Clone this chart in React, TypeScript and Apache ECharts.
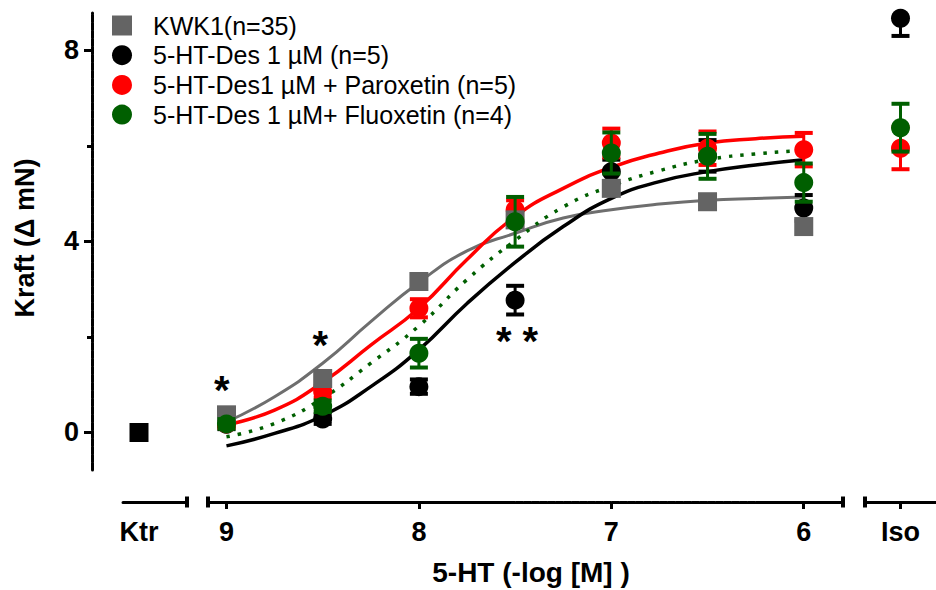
import React, { useEffect, useRef } from "react";
import * as echarts from "echarts";

// 5-HT concentration steps (-log [M]) of the cumulative curve
const pLog = [9, 8.5, 8, 7.5, 7, 6.5, 6];

// Mean force (Δ mN) and SEM per group
const kwk1 = [0.37, 1.13, 3.16, 4.45, 5.11, 4.83, 4.31];
const des = [0.17, 0.28, 0.96, 2.77, 5.46, 5.79, 4.7];
const desErr = [0.1, 0.1, 0.15, 0.3, 0.25, 0.33, 0.27];
const parox = [0.18, 0.85, 2.6, 4.66, 6.06, 5.95, 5.92];
const paroxErr = [0.08, 0.12, 0.19, 0.2, 0.3, 0.35, 0.35];
const fluox = [0.18, 0.55, 1.66, 4.41, 5.85, 5.78, 5.23];
const fluoxErr = [0.1, 0.12, 0.3, 0.52, 0.43, 0.47, 0.4];

// Control (Ktr) and isoprenaline (Iso) responses
const ktrCats = ["Ktr", ""];
const ktrValue = 0;
const isoCats = ["Iso"];
const isoDes = 8.67;
const isoDesErr = 0.37;
const isoParox = 5.95;
const isoParoxErr = 0.44;
const isoFluox = 6.38;
const isoFluoxErr = 0.5;

// Fitted concentration-response curves, sampled every 0.25 log units
const curveX = [9, 8.75, 8.5, 8.25, 8, 7.75, 7.5, 7.25, 7, 6.75, 6.5, 6.25, 6];
const kwk1Fit = [0.22, 0.75, 1.45, 2.32, 3.14, 3.8, 4.17, 4.49, 4.66, 4.78, 4.86, 4.9, 4.93];
const desFit = [-0.28, -0.02, 0.35, 0.96, 1.73, 2.7, 3.56, 4.31, 4.9, 5.25, 5.46, 5.6, 5.71];
const paroxFit = [0.16, 0.47, 1.05, 1.83, 2.6, 3.62, 4.52, 5.11, 5.55, 5.85, 6.06, 6.15, 6.2];
const fluoxFit = [-0.09, 0.19, 0.72, 1.45, 2.23, 3.2, 4.02, 4.72, 5.16, 5.48, 5.71, 5.83, 5.9];

// Significance marks
const sigX = [9.024, 8.512, 7.49];
const sigY = [0.89, 1.84, 1.91];
const sigText = ["*", "*", "* *"];

const yTicks = [0, 4, 8];
const yMinorTicks = [2, 6];
const xTicks = [9, 8, 7, 6];
const xMinorTicks = [8.5, 7.5, 6.5];

const names = [
  "KWK1(n=35)",
  "5-HT-Des 1 µM (n=5)",
  "5-HT-Des1 µM + Paroxetin (n=5)",
  "5-HT-Des 1 µM+ Fluoxetin (n=4)",
];

const FONT = '"Liberation Sans", Arial, sans-serif';
const GRAY = "#646464";
const GRAY_LINE = "#6e6e6e";
const BLACK = "#000000";
const RED = "#ff0000";
const GREEN = "#005f00";

const Y_MIN = -0.785;
const Y_MAX = 8.78;

const axisLineStyle = { color: "#000", width: 3, type: [7, 1] as any };
const tickStyle = { color: "#000", width: 3 };
const labelStyle = {
  fontSize: 27,
  fontWeight: "bold" as const,
  color: "#000",
  fontFamily: FONT,
};

function pairs(xs: (number | string)[], ys: number[]) {
  return xs.map((x, i) => [x, ys[i]]);
}

function triples(xs: (number | string)[], ys: number[], es: number[]) {
  return xs.map((x, i) => [x, ys[i], es[i]]);
}

function errorBars(
  name: string,
  xAxisIndex: number,
  yAxisIndex: number,
  data: any[],
  color: string,
  z: number
) {
  return {
    type: "custom",
    name,
    xAxisIndex,
    yAxisIndex,
    z,
    clip: true,
    silent: true,
    encode: { x: 0, y: 1 },
    data,
    renderItem: (_params: any, api: any) => {
      const x = api.value(0);
      const y = api.value(1);
      const e = api.value(2);
      const top = api.coord([x, y + e]);
      const bot = api.coord([x, y - e]);
      const half = 9;
      return {
        type: "group",
        children: [
          {
            type: "line",
            shape: { x1: top[0], y1: top[1], x2: bot[0], y2: bot[1] },
            style: { stroke: color, lineWidth: 3 },
          },
          {
            type: "line",
            shape: { x1: top[0] - half, y1: top[1], x2: top[0] + half, y2: top[1] },
            style: { stroke: color, lineWidth: 4 },
          },
          {
            type: "line",
            shape: { x1: bot[0] - half, y1: bot[1], x2: bot[0] + half, y2: bot[1] },
            style: { stroke: color, lineWidth: 4 },
          },
        ],
      };
    },
  };
}

function scatter(
  name: string,
  xAxisIndex: number,
  yAxisIndex: number,
  data: any[],
  color: string,
  symbol: string,
  z: number
) {
  return {
    type: "scatter",
    name,
    xAxisIndex,
    yAxisIndex,
    z,
    symbol,
    symbolSize: 19,
    itemStyle: { color, opacity: 1 },
    data,
  };
}

function curve(name: string, ys: number[], color: string, width: number, dash?: number[]) {
  return {
    type: "line",
    name,
    xAxisIndex: 1,
    yAxisIndex: 2,
    z: 5,
    smooth: 0.5,
    showSymbol: false,
    symbol: "none",
    silent: true,
    lineStyle: { color, width, type: dash ? (dash as any) : "solid", cap: "butt" },
    data: pairs(curveX, ys),
  };
}

export default function App() {
  const ref = useRef<HTMLDivElement>(null);

  useEffect(() => {
    document.body.style.margin = "0";
    if (!ref.current) return;
    const chart = echarts.init(ref.current, undefined, { renderer: "svg" });

    const hiddenY = (gridIndex: number) => ({
      gridIndex,
      type: "value",
      min: Y_MIN,
      max: Y_MAX,
      show: false,
      splitLine: { show: false },
    });

    const xLine = (symbol: string[]) => ({
      show: true,
      onZero: false,
      lineStyle: axisLineStyle,
      symbol,
      symbolSize: [11, 4],
    });

    const option: any = {
      animation: false,
      backgroundColor: "#ffffff",
      textStyle: { fontFamily: FONT },
      grid: [
        { left: 123, right: 749, top: 13, bottom: 120 },
        { left: 208, right: 93, top: 13, bottom: 120 },
        { left: 865, right: -7, top: 13, bottom: 120 },
      ],
      legend: {
        data: names,
        orient: "vertical",
        left: 107,
        top: 8,
        itemWidth: 20,
        itemHeight: 20,
        itemGap: 4.7,
        selectedMode: false,
        textStyle: {
          fontSize: 25,
          color: "#000",
          fontFamily: FONT,
          padding: [0, 0, 0, 16],
        },
      },
      xAxis: [
        {
          gridIndex: 0,
          type: "category",
          data: ktrCats,
          boundaryGap: true,
          offset: 32,
          axisLine: xLine(["none", "rect"]),
          axisTick: { show: false },
          axisLabel: { ...labelStyle, margin: 16, interval: 0 },
          splitLine: { show: false },
        },
        {
          gridIndex: 1,
          type: "value",
          inverse: true,
          min: 5.796,
          max: 9.096,
          offset: 32,
          axisLine: xLine(["rect", "rect"]),
          axisTick: { show: true, customValues: xTicks, length: 7, lineStyle: tickStyle },
          axisLabel: { ...labelStyle, margin: 16, customValues: xTicks },
          splitLine: { show: false },
        },
        {
          gridIndex: 1,
          type: "value",
          inverse: true,
          min: 5.796,
          max: 9.096,
          offset: 32,
          axisLine: { show: false, onZero: false },
          axisTick: { show: true, customValues: xMinorTicks, length: 4, lineStyle: tickStyle },
          axisLabel: { show: false },
          splitLine: { show: false },
        },
        {
          gridIndex: 2,
          type: "category",
          data: isoCats,
          boundaryGap: true,
          offset: 32,
          axisLine: xLine(["rect", "none"]),
          axisTick: { show: true, alignWithLabel: true, length: 7, lineStyle: tickStyle },
          axisLabel: { ...labelStyle, margin: 16 },
          splitLine: { show: false },
        },
      ],
      yAxis: [
        {
          gridIndex: 0,
          type: "value",
          min: Y_MIN,
          max: Y_MAX,
          position: "left",
          offset: 31,
          axisLine: { show: true, onZero: false, lineStyle: axisLineStyle },
          axisTick: { show: true, customValues: yTicks, length: 8, lineStyle: tickStyle },
          axisLabel: { ...labelStyle, margin: 13, customValues: yTicks },
          splitLine: { show: false },
        },
        {
          gridIndex: 0,
          type: "value",
          min: Y_MIN,
          max: Y_MAX,
          position: "left",
          offset: 31,
          axisLine: { show: false, onZero: false },
          axisTick: { show: true, customValues: yMinorTicks, length: 5, lineStyle: tickStyle },
          axisLabel: { show: false },
          splitLine: { show: false },
        },
        hiddenY(1),
        hiddenY(2),
      ],
      graphic: [
        {
          type: "text",
          x: 531,
          y: 572,
          style: {
            text: "5-HT (-log [M] )",
            fontSize: 28,
            fontWeight: "bold",
            fontFamily: FONT,
            fill: "#000",
            align: "center",
            verticalAlign: "middle",
          },
        },
        {
          type: "text",
          x: 25,
          y: 238,
          rotation: Math.PI / 2,
          style: {
            text: "Kraft (Δ mN)",
            fontSize: 27,
            fontWeight: "bold",
            fontFamily: FONT,
            fill: "#000",
            align: "center",
            verticalAlign: "middle",
          },
        },
      ],
      series: [
        // fitted curves
        curve("fit-kwk1", kwk1Fit, GRAY_LINE, 3),
        curve("fit-des", desFit, BLACK, 3.5),
        curve("fit-parox", paroxFit, RED, 3.5),
        curve("fit-fluox", fluoxFit, GREEN, 3.5, [3.5, 8]),

        // 5-HT-Des 1 µM
        errorBars("err-des", 1, 2, triples(pLog, des, desErr), BLACK, 10),
        scatter(names[1], 1, 2, pairs(pLog, des), BLACK, "circle", 11),
        errorBars("err-des-iso", 3, 3, [[isoCats[0], isoDes, isoDesErr]], BLACK, 10),
        scatter(names[1], 3, 3, [[isoCats[0], isoDes]], BLACK, "circle", 11),

        // + Paroxetin
        errorBars("err-parox", 1, 2, triples(pLog, parox, paroxErr), RED, 12),
        scatter(names[2], 1, 2, pairs(pLog, parox), RED, "circle", 13),
        errorBars("err-parox-iso", 3, 3, [[isoCats[0], isoParox, isoParoxErr]], RED, 12),
        scatter(names[2], 3, 3, [[isoCats[0], isoParox]], RED, "circle", 13),

        // KWK1
        scatter(names[0], 1, 2, pairs(pLog, kwk1), GRAY, "rect", 14),

        // + Fluoxetin
        errorBars("err-fluox", 1, 2, triples(pLog, fluox, fluoxErr), GREEN, 16),
        scatter(names[3], 1, 2, pairs(pLog, fluox), GREEN, "circle", 17),
        errorBars("err-fluox-iso", 3, 3, [[isoCats[0], isoFluox, isoFluoxErr]], GREEN, 16),
        scatter(names[3], 3, 3, [[isoCats[0], isoFluox]], GREEN, "circle", 17),

        // control
        scatter("Ktr", 0, 0, [[ktrCats[0], ktrValue]], BLACK, "rect", 11),

        // significance marks
        {
          type: "scatter",
          name: "sig",
          xAxisIndex: 1,
          yAxisIndex: 2,
          z: 20,
          symbolSize: 0,
          silent: true,
          itemStyle: { opacity: 1 },
          label: {
            show: true,
            position: "inside",
            formatter: (p: any) => p.value[2],
            fontSize: 40,
            fontWeight: "bold",
            color: "#000",
            opacity: 1,
            textBorderWidth: 0,
            fontFamily: FONT,
          },
          data: sigX.map((x, i) => [x, sigY[i], sigText[i]]),
        },
      ],
    };

    chart.setOption(option);
    return () => chart.dispose();
  }, []);

  return <div ref={ref} style={{ width: 936, height: 590 }} />;
}
